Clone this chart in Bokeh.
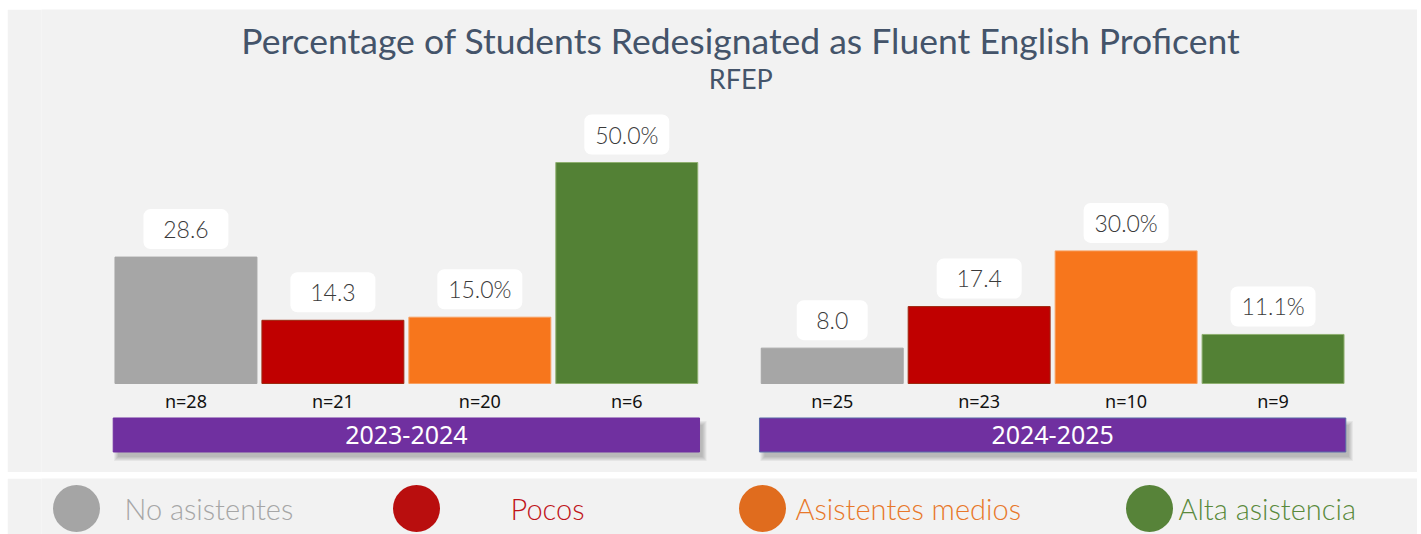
from bokeh.plotting import figure
from bokeh.models import FactorRange, Range1d, Label, ColumnDataSource
from bokeh.layouts import column
from bokeh.core.properties import value
from bokeh.embed import file_html
from bokeh.resources import INLINE

# ---------------- data ----------------
years = ["2023-2024", "2024-2025"]
groups = ["No asistentes", "Pocos", "Asistentes medios", "Alta asistencia"]
pct_2023 = [28.6, 14.3, 15.0, 50.0]
pct_2024 = [8.0, 17.4, 30.0, 11.1]
labels_2023 = ["28.6", "14.3", "15.0%", "50.0%"]
labels_2024 = ["8.0", "17.4", "30.0%", "11.1%"]
n_2023 = [28, 21, 20, 6]
n_2024 = [25, 23, 10, 9]
bar_colors = ["#a6a6a6", "#c00000", "#f7761c", "#538135"]
bar_line_colors = ["#a6a6a6", "#9c2a10", "#f8a060", "#8fb070"]
legend_dot_colors = ["#a5a5a5", "#b90e0e", "#e06c1e", "#578339"]
legend_text_colors = ["#a6a6a6", "#c0141a", "#e8782a", "#5a8a3c"]
title_text = "Percentage of Students Redesignated as Fluent English Proficent"
subtitle_text = "RFEP"

# ---------------- styling ----------------
BG = "#f2f2f2"
PX_X = 147.0
PX_Y = 4.42
FIG_W = 1410
FIG_H = 463
Y0 = -89 / PX_Y
Y1 = (FIG_H - 89) / PX_Y

factors = [(y, g) for y in years for g in groups]
tops = pct_2023 + pct_2024
vlabels = labels_2023 + labels_2024
ns = n_2023 + n_2024
colors = bar_colors * len(years)
line_colors = bar_line_colors * len(years)

box_w = [(71 if len(s) <= 3 else 85) / PX_X for s in vlabels]
box_bot = [t + 8 / PX_Y for t in tops]
box_top = [t + 48 / PX_Y for t in tops]

src = ColumnDataSource(dict(
    x=factors, top=tops, label=vlabels,
    n=[f"n={v}" for v in ns], color=colors, lc=line_colors,
    ny=[-3.85] * len(factors),
    bw=box_w, bb=box_bot, bt=box_top,
))

xr = FactorRange(*factors, factor_padding=0.0, group_padding=0.398,
                 range_padding=0.483, range_padding_units="absolute")

p = figure(x_range=xr, y_range=Range1d(Y0, Y1), width=FIG_W, height=FIG_H,
           output_backend="svg", toolbar_location=None,
           x_axis_location=None, y_axis_location=None,
           min_border_left=34, min_border_right=0, min_border_top=0, min_border_bottom=0,
           margin=(9, 0, 0, 7))
p.grid.visible = False
p.outline_line_color = None
p.background_fill_color = BG
p.border_fill_color = BG

p.vbar(x="x", top="top", bottom=0, width=0.966, fill_color="color",
       line_color="lc", source=src)

# white rounded label boxes
p.vbar(x="x", top="bt", bottom="bb", width="bw", fill_color="white",
       line_color=None, border_radius=7, source=src)
p.text(x="x", y="top", text="label", y_offset=-28, text_align="center",
       text_baseline="middle", text_font=value("Lato Light"), text_font_size="23px",
       text_color="#3a3a3a", source=src)

p.text(x="x", y="ny", text="n", text_align="center", text_baseline="middle",
       text_font=value("Noto Sans"), text_font_size="18px", text_color="#111111",
       source=src)

# banners with soft shadow
band_y = -11.65
band_h = 7.69
band_w = 3.99
for k in range(1, 6):
    dx = 4 / PX_X
    dy = 6 / PX_Y
    grow_x = (2 * k - 4) / PX_X
    grow_y = (2 * k - 4) / PX_Y
    p.rect(x=[[yr, dx] for yr in years], y=[band_y - dy] * len(years),
           width=band_w + grow_x, height=band_h + grow_y,
           fill_color="#505050", fill_alpha=0.08, line_color=None)
p.rect(x=years, y=[band_y] * len(years), width=band_w, height=band_h,
       fill_color="#7030a0", line_color=["#7030a0", "#5a6aa8"])
p.text(x=years, y=[band_y] * len(years), text=years, text_align="center",
       text_baseline="middle", text_font=value("Noto Sans"), text_font_size="25px",
       text_color="white")

p.add_layout(Label(x=4.276, y=432, y_units="screen", text=title_text,
                   text_align="center", text_baseline="middle",
                   text_font="Lato", text_font_size="35.5px", text_color="#44546a"))
p.add_layout(Label(x=4.276, y=394, y_units="screen", text=subtitle_text,
                   text_align="center", text_baseline="middle",
                   text_font="Lato", text_font_size="27px", text_color="#44546a"))

# ---------------- legend strip (x in page pixels) ----------------
leg = figure(width=FIG_W, height=56, x_range=Range1d(41, 1417), y_range=Range1d(0, 56),
             output_backend="svg", toolbar_location=None,
             x_axis_location=None, y_axis_location=None,
             min_border_left=34, min_border_right=0, min_border_top=0, min_border_bottom=0,
             margin=(6, 0, 0, 7))
leg.grid.visible = False
leg.outline_line_color = None
leg.background_fill_color = BG
leg.border_fill_color = BG

dot_x = [76, 416, 762, 1149]
txt_x = [124, 510, 795, 1178]
leg.scatter(x=dot_x, y=[26] * 4, size=47, marker="circle",
            fill_color=legend_dot_colors, line_color=None)
leg.text(x=txt_x, y=[26] * 4, text=groups, text_align="left", text_baseline="middle",
         text_font=value("Lato Light"), text_font_size="29px", text_color=legend_text_colors)

layout = column(p, leg, spacing=0)
open("out.html", "w").write(file_html(layout, INLINE))
